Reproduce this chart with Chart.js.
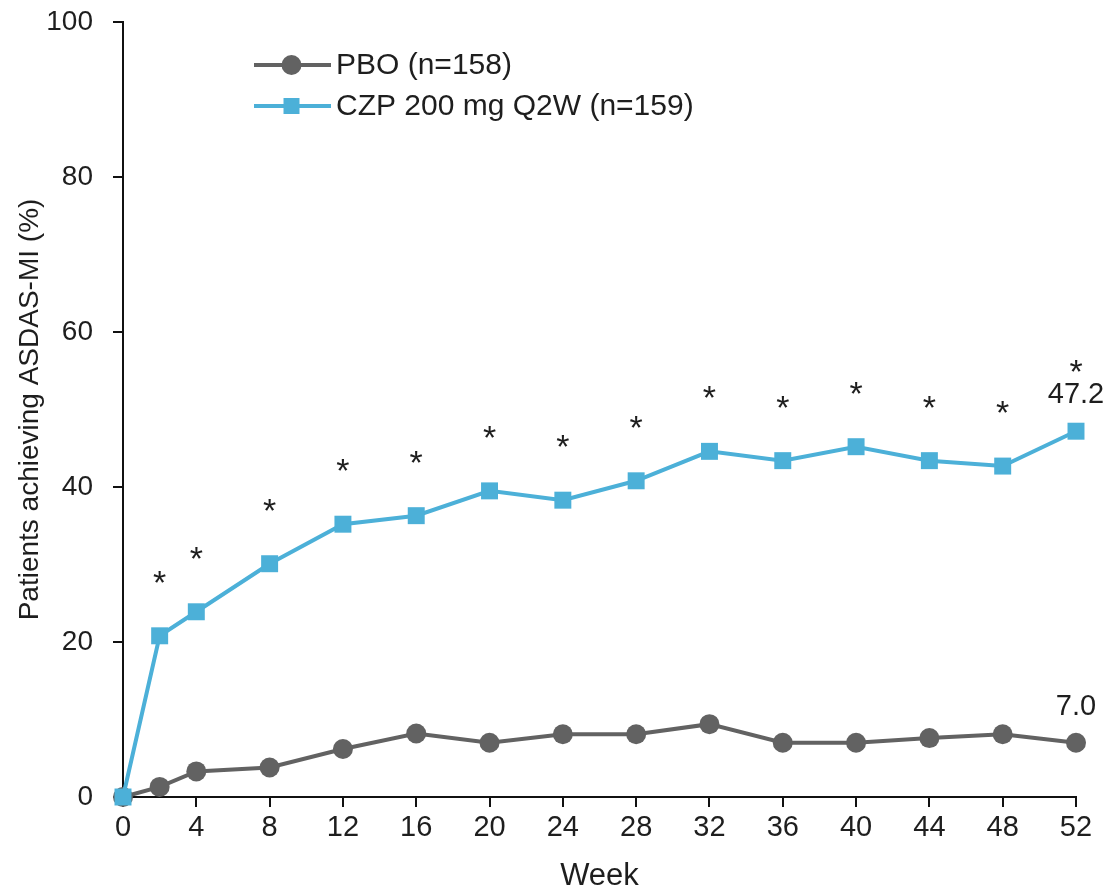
<!DOCTYPE html>
<html>
<head>
<meta charset="utf-8">
<script src="https://cdn.jsdelivr.net/npm/chart.js@4/dist/chart.umd.min.js"></script>
<style>
  html, body { margin: 0; padding: 0; background: #fff; }
  #wrap { width: 1109px; height: 890px; position: relative; }
</style>
</head>
<body>
<div id="wrap"><canvas id="c" width="1109" height="890"></canvas></div>
<script>
// Weeks at which response was assessed
const weeks = [0, 2, 4, 8, 12, 16, 20, 24, 28, 32, 36, 40, 44, 48, 52];
// Percentage of patients achieving ASDAS-MI
const pboValues = [0, 1.3, 3.3, 3.8, 6.2, 8.2, 7.0, 8.1, 8.1, 9.4, 7.0, 7.0, 7.6, 8.1, 7.0];
const czpValues = [0, 20.8, 23.9, 30.1, 35.2, 36.3, 39.5, 38.3, 40.8, 44.6, 43.4, 45.2, 43.4, 42.7, 47.2];
// Weeks with a significant difference vs placebo
const significantWeeks = [2, 4, 8, 12, 16, 20, 24, 28, 32, 36, 40, 44, 48, 52];
const xTicks = [0, 4, 8, 12, 16, 20, 24, 28, 32, 36, 40, 44, 48, 52];
const yTicks = [0, 20, 40, 60, 80, 100];
const seriesNames = ['PBO (n=158)', 'CZP 200 mg Q2W (n=159)'];

const FONT = '"Liberation Sans", Arial, sans-serif';
const GRAY = '#626262';
const BLUE = '#4cb0d8';
const TEXT = '#1e1e1e';

const toPoints = vals => vals.map((v, i) => ({ x: weeks[i], y: v }));

// Asterisks above the active arm, final-week value labels, and the legend
const annotations = {
  id: 'annotations',
  afterDatasetsDraw(chart) {
    const ctx = chart.ctx;
    const czpMeta = chart.getDatasetMeta(1);
    const pboMeta = chart.getDatasetMeta(0);
    const last = weeks.length - 1;
    ctx.save();
    ctx.fillStyle = TEXT;

    // final values
    ctx.font = '29px ' + FONT;
    ctx.textAlign = 'center';
    ctx.textBaseline = 'alphabetic';
    const cEnd = czpMeta.data[last], pEnd = pboMeta.data[last];
    ctx.fillText(czpValues[last].toFixed(1), cEnd.x, cEnd.y - 28);
    ctx.fillText(pboValues[last].toFixed(1), pEnd.x, pEnd.y - 28);

    // significance markers
    ctx.font = '34px ' + FONT;
    significantWeeks.forEach(w => {
      const i = weeks.indexOf(w);
      const el = czpMeta.data[i];
      const lift = (i === last) ? 68 : 62;
      ctx.fillText('*', el.x, el.y - lift + 20);
    });

    // legend
    const ds = chart.data.datasets;
    const lx0 = 254, lx1 = 331, rows = [65, 106];
    ds.forEach((d, k) => {
      const y = rows[k];
      const cx = (lx0 + lx1) / 2 - 1;
      ctx.strokeStyle = d.borderColor;
      ctx.lineWidth = 4;
      ctx.beginPath();
      ctx.moveTo(lx0, y);
      ctx.lineTo(lx1, y);
      ctx.stroke();
      ctx.fillStyle = d.backgroundColor;
      ctx.beginPath();
      if (d.pointStyle === 'circle') {
        ctx.arc(cx, y, d.pointRadius, 0, Math.PI * 2);
      } else {
        const s = 8;
        ctx.rect(cx - s, y - s, 2 * s, 2 * s);
      }
      ctx.fill();
      ctx.fillStyle = TEXT;
      ctx.font = '30px ' + FONT;
      ctx.textAlign = 'left';
      ctx.textBaseline = 'middle';
      ctx.fillText(seriesNames[k], lx1 + 5, y + 1);
    });
    ctx.restore();
  }
};

new Chart(document.getElementById('c'), {
  type: 'line',
  data: {
    datasets: [
      {
        label: seriesNames[0],
        data: toPoints(pboValues),
        borderColor: GRAY,
        backgroundColor: GRAY,
        borderWidth: 4,
        pointStyle: 'circle',
        pointRadius: 10,
        pointBorderWidth: 0,
        pointBackgroundColor: GRAY,
        clip: false,
        order: 1
      },
      {
        label: seriesNames[1],
        data: toPoints(czpValues),
        borderColor: BLUE,
        backgroundColor: BLUE,
        borderWidth: 4,
        pointStyle: 'rect',
        pointRadius: 12,
        pointBorderWidth: 0,
        pointBackgroundColor: BLUE,
        clip: false,
        order: 0
      }
    ]
  },
  options: {
    responsive: false,
    animation: false,
    events: [],
    layout: { padding: { top: 22, right: 33, left: 0, bottom: 0 } },
    plugins: { legend: { display: false }, tooltip: { enabled: false } },
    scales: {
      x: {
        type: 'linear',
        min: 0,
        max: 52,
        afterBuildTicks: s => { s.ticks = xTicks.map(v => ({ value: v })); },
        afterFit: s => { s.height = 93; },
        border: { display: true, color: '#111', width: 2 },
        grid: { display: true, drawOnChartArea: false, color: '#111', lineWidth: 2, tickLength: 10 },
        ticks: { color: TEXT, font: { family: FONT, size: 29 }, padding: 4, maxRotation: 0 },
        title: { display: true, text: 'Week', color: TEXT, font: { family: FONT, size: 31, lineHeight: 0.85 }, padding: { top: 0, bottom: 0 } }
      },
      y: {
        min: 0,
        max: 100,
        afterBuildTicks: s => { s.ticks = yTicks.map(v => ({ value: v })); },
        afterFit: s => { s.width = 123; s.paddingTop = 0; s.paddingBottom = 0; },
        border: { display: true, color: '#111', width: 2 },
        grid: { display: true, drawOnChartArea: false, color: '#111', lineWidth: 2, tickLength: 10 },
        ticks: { color: TEXT, font: { family: FONT, size: 28 }, padding: 20 },
        title: { display: true, text: 'Patients achieving ASDAS-MI (%)', color: TEXT, font: { family: FONT, size: 28 }, padding: { top: 13, bottom: 0 } }
      }
    }
  },
  plugins: [annotations]
});
</script>
</body>
</html>
